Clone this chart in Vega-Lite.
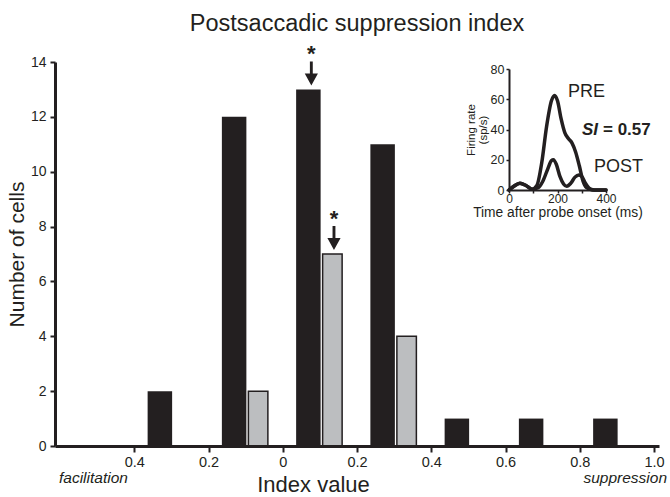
{
  "$schema": "https://vega.github.io/schema/vega-lite/v6.json",
  "width": 604,
  "height": 384,
  "autosize": "none",
  "padding": {"left": 55, "top": 62, "right": 11, "bottom": 51},
  "background": "white",
  "config": {
    "font": "Liberation Sans",
    "view": {"stroke": null},
    "axis": {"grid": false, "domainColor": "#231f20", "tickColor": "#231f20", "labelColor": "#231f20", "titleColor": "#231f20", "titleFontWeight": "normal"}
  },
  "title": {"text": "Postsaccadic suppression index", "fontSize": 23.5, "fontWeight": "normal", "color": "#231f20", "anchor": "middle", "baseline": "alphabetic", "frame": "group", "offset": -11},
  "datasets": {
    "histogram": [
      {"index": -0.3, "group": "all cells", "count": 2},
      {"index": -0.1, "group": "all cells", "count": 12},
      {"index": 0.1, "group": "all cells", "count": 13},
      {"index": 0.3, "group": "all cells", "count": 11},
      {"index": 0.5, "group": "all cells", "count": 1},
      {"index": 0.7, "group": "all cells", "count": 1},
      {"index": 0.9, "group": "all cells", "count": 1},
      {"index": -0.3, "group": "subset", "count": 0},
      {"index": -0.1, "group": "subset", "count": 2},
      {"index": 0.1, "group": "subset", "count": 7},
      {"index": 0.3, "group": "subset", "count": 4},
      {"index": 0.5, "group": "subset", "count": 0},
      {"index": 0.7, "group": "subset", "count": 0},
      {"index": 0.9, "group": "subset", "count": 0}
    ],
    "means": [
      {"index": 0.077, "group": "all cells", "count": 13, "mark": "*"},
      {"index": 0.138, "group": "subset", "count": 7, "mark": "*"}
    ],
    "ends": [
      {"index": -0.6, "label": "facilitation"},
      {"index": 1.0, "label": "suppression"}
    ],
    "psth": [
      {"time": 0, "rate": 0, "condition": "PRE"},
      {"time": 20, "rate": 2.5, "condition": "PRE"},
      {"time": 45, "rate": 4.5, "condition": "PRE"},
      {"time": 70, "rate": 3, "condition": "PRE"},
      {"time": 95, "rate": 0.5, "condition": "PRE"},
      {"time": 115, "rate": 3, "condition": "PRE"},
      {"time": 135, "rate": 18, "condition": "PRE"},
      {"time": 155, "rate": 42, "condition": "PRE"},
      {"time": 175, "rate": 59, "condition": "PRE"},
      {"time": 188, "rate": 62.5, "condition": "PRE"},
      {"time": 200, "rate": 59, "condition": "PRE"},
      {"time": 215, "rate": 47, "condition": "PRE"},
      {"time": 230, "rate": 38, "condition": "PRE"},
      {"time": 245, "rate": 34, "condition": "PRE"},
      {"time": 260, "rate": 31, "condition": "PRE"},
      {"time": 275, "rate": 25, "condition": "PRE"},
      {"time": 290, "rate": 16, "condition": "PRE"},
      {"time": 305, "rate": 6, "condition": "PRE"},
      {"time": 320, "rate": 1.5, "condition": "PRE"},
      {"time": 340, "rate": 0.2, "condition": "PRE"},
      {"time": 360, "rate": 0, "condition": "PRE"},
      {"time": 400, "rate": 0, "condition": "PRE"},
      {"time": 0, "rate": 0, "condition": "POST"},
      {"time": 20, "rate": 2.5, "condition": "POST"},
      {"time": 45, "rate": 4.5, "condition": "POST"},
      {"time": 70, "rate": 3, "condition": "POST"},
      {"time": 95, "rate": 0.5, "condition": "POST"},
      {"time": 120, "rate": 1.5, "condition": "POST"},
      {"time": 140, "rate": 6, "condition": "POST"},
      {"time": 160, "rate": 14, "condition": "POST"},
      {"time": 175, "rate": 19.5, "condition": "POST"},
      {"time": 183, "rate": 20, "condition": "POST"},
      {"time": 195, "rate": 17, "condition": "POST"},
      {"time": 210, "rate": 9, "condition": "POST"},
      {"time": 225, "rate": 4, "condition": "POST"},
      {"time": 238, "rate": 2.5, "condition": "POST"},
      {"time": 255, "rate": 4.5, "condition": "POST"},
      {"time": 272, "rate": 8.5, "condition": "POST"},
      {"time": 288, "rate": 10, "condition": "POST"},
      {"time": 300, "rate": 9, "condition": "POST"},
      {"time": 315, "rate": 4.5, "condition": "POST"},
      {"time": 330, "rate": 1.2, "condition": "POST"},
      {"time": 345, "rate": 0.2, "condition": "POST"},
      {"time": 360, "rate": 0, "condition": "POST"},
      {"time": 400, "rate": 0, "condition": "POST"}
    ],
    "insetLabels": [
      {"time": 243, "rate": 65, "label": "PRE"},
      {"time": 350, "rate": 15, "label": "POST"}
    ],
    "siLabel": [
      {"time": 301, "rate": 40, "symbol": "SI", "value": "= 0.57"}
    ]
  },
  "layer": [
    {
      "layer": [
        {
          "data": {"name": "histogram"},
          "transform": [{"filter": "datum.group === 'all cells'"}],
          "mark": {"type": "bar", "orient": "vertical", "width": 24.5, "xOffset": -11.5, "color": "#231f20"},
          "encoding": {
            "x": {"field": "index", "type": "quantitative",
              "scale": {"domain": [-0.6, 1.0], "nice": false, "zero": false},
              "axis": {"title": "Index value", "titleFontSize": 22, "titlePadding": 6, "titleX": 258,
                "values": [-0.4, -0.2, 0, 0.2, 0.4, 0.6, 0.8, 1.0],
                "labelExpr": "datum.value == 0 ? '0' : format(abs(datum.value), '.1f')",
                "labelFontSize": 14.5, "labelPadding": 3, "tickSize": 6, "tickWidth": 2, "domainWidth": 3, "zindex": 1, "labelFlush": false}},
            "y": {"field": "count", "type": "quantitative",
              "scale": {"domain": [0, 14], "nice": false},
              "axis": {"title": "Number of cells", "titleFontSize": 21, "titlePadding": 3,
                "values": [0, 2, 4, 6, 8, 10, 12, 14], "labelFontSize": 14, "labelPadding": 4,
                "tickSize": 5, "tickWidth": 2, "domainWidth": 3, "zindex": 1}}
          }
        },
        {
          "data": {"name": "histogram"},
          "transform": [{"filter": "datum.group === 'subset' && datum.count > 0"}],
          "mark": {"type": "bar", "orient": "vertical", "width": 19.5, "xOffset": 12.5, "color": "#bcbec0", "stroke": "#231f20", "strokeWidth": 1.5},
          "encoding": {
            "x": {"field": "index", "type": "quantitative"},
            "y": {"field": "count", "type": "quantitative"}
          }
        },
        {
          "mark": {"type": "rule", "color": "#231f20", "strokeWidth": 5, "strokeDash": [5, 6]},
          "encoding": {"x": {"datum": 0, "type": "quantitative"}}
        },
        {
          "data": {"name": "means"},
          "mark": {"type": "point", "filled": true, "color": "#231f20", "opacity": 1, "size": 576, "yOffset": -16,
            "shape": "M-0.12,-1L0.12,-1L0.12,0L0.55,0L0,1L-0.55,0L-0.12,0Z"},
          "encoding": {
            "x": {"field": "index", "type": "quantitative"},
            "y": {"field": "count", "type": "quantitative"}
          }
        },
        {
          "data": {"name": "means"},
          "mark": {"type": "text", "fontSize": 22, "fontWeight": "bold", "color": "#231f20", "baseline": "alphabetic", "dy": -28},
          "encoding": {
            "x": {"field": "index", "type": "quantitative"},
            "y": {"field": "count", "type": "quantitative"},
            "text": {"field": "mark"}
          }
        },
        {
          "data": {"name": "ends"},
          "transform": [{"filter": "datum.label === 'facilitation'"}],
          "mark": {"type": "text", "fontSize": 15.5, "fontStyle": "italic", "color": "#231f20", "align": "left", "baseline": "alphabetic", "dx": -1, "dy": 37},
          "encoding": {
            "x": {"field": "index", "type": "quantitative"},
            "y": {"datum": 0, "type": "quantitative"},
            "text": {"field": "label"}
          }
        },
        {
          "data": {"name": "ends"},
          "transform": [{"filter": "datum.label === 'suppression'"}],
          "mark": {"type": "text", "fontSize": 15.5, "fontStyle": "italic", "color": "#231f20", "align": "right", "baseline": "alphabetic", "dx": 13, "dy": 37},
          "encoding": {
            "x": {"field": "index", "type": "quantitative"},
            "y": {"datum": 0, "type": "quantitative"},
            "text": {"field": "label"}
          }
        }
      ]
    },
    {
      "layer": [
        {
          "data": {"name": "psth"},
          "mark": {"type": "line", "interpolate": "monotone", "color": "#231f20", "strokeWidth": 3.5, "strokeCap": "round", "strokeJoin": "round"},
          "encoding": {
            "x": {"field": "time", "type": "quantitative",
              "scale": {"domain": [0, 400], "range": [454, 551], "nice": false, "zero": false},
              "axis": {"orient": "bottom", "offset": -256, "title": "Time after probe onset (ms)", "titleFontSize": 13.8, "titlePadding": 1,
                "values": [0, 100, 200, 300, 400],
                "labelExpr": "datum.value % 200 == 0 ? datum.label : ''",
                "labelFontSize": 12, "labelPadding": 0, "tickSize": 3, "tickWidth": 1.5, "domainWidth": 2, "labelFlush": false}},
            "y": {"field": "rate", "type": "quantitative",
              "scale": {"domain": [0, 80], "range": [128, 7], "nice": false},
              "axis": {"orient": "left", "offset": -454, "title": ["Firing rate", "(sp/s)"], "titleFontSize": 11.5, "titleLineHeight": 12, "titlePadding": 2,
                "values": [0, 20, 40, 60, 80], "labelFontSize": 12.5, "labelPadding": 2, "tickSize": 3, "tickWidth": 1.5, "domainWidth": 2}},
            "detail": {"field": "condition"}
          }
        },
        {
          "data": {"name": "insetLabels"},
          "mark": {"type": "text", "fontSize": 18, "color": "#231f20", "align": "left", "baseline": "middle"},
          "encoding": {
            "x": {"field": "time", "type": "quantitative"},
            "y": {"field": "rate", "type": "quantitative"},
            "text": {"field": "label"}
          }
        },
        {
          "data": {"name": "siLabel"},
          "mark": {"type": "text", "fontSize": 17, "fontWeight": "bold", "fontStyle": "italic", "color": "#231f20", "align": "left", "baseline": "middle"},
          "encoding": {
            "x": {"field": "time", "type": "quantitative"},
            "y": {"field": "rate", "type": "quantitative"},
            "text": {"field": "symbol"}
          }
        },
        {
          "data": {"name": "siLabel"},
          "mark": {"type": "text", "fontSize": 17, "fontWeight": "bold", "color": "#231f20", "align": "left", "baseline": "middle", "dx": 21},
          "encoding": {
            "x": {"field": "time", "type": "quantitative"},
            "y": {"field": "rate", "type": "quantitative"},
            "text": {"field": "value"}
          }
        }
      ]
    }
  ],
  "resolve": {"scale": {"x": "independent", "y": "independent"}, "axis": {"x": "independent", "y": "independent"}}
}
